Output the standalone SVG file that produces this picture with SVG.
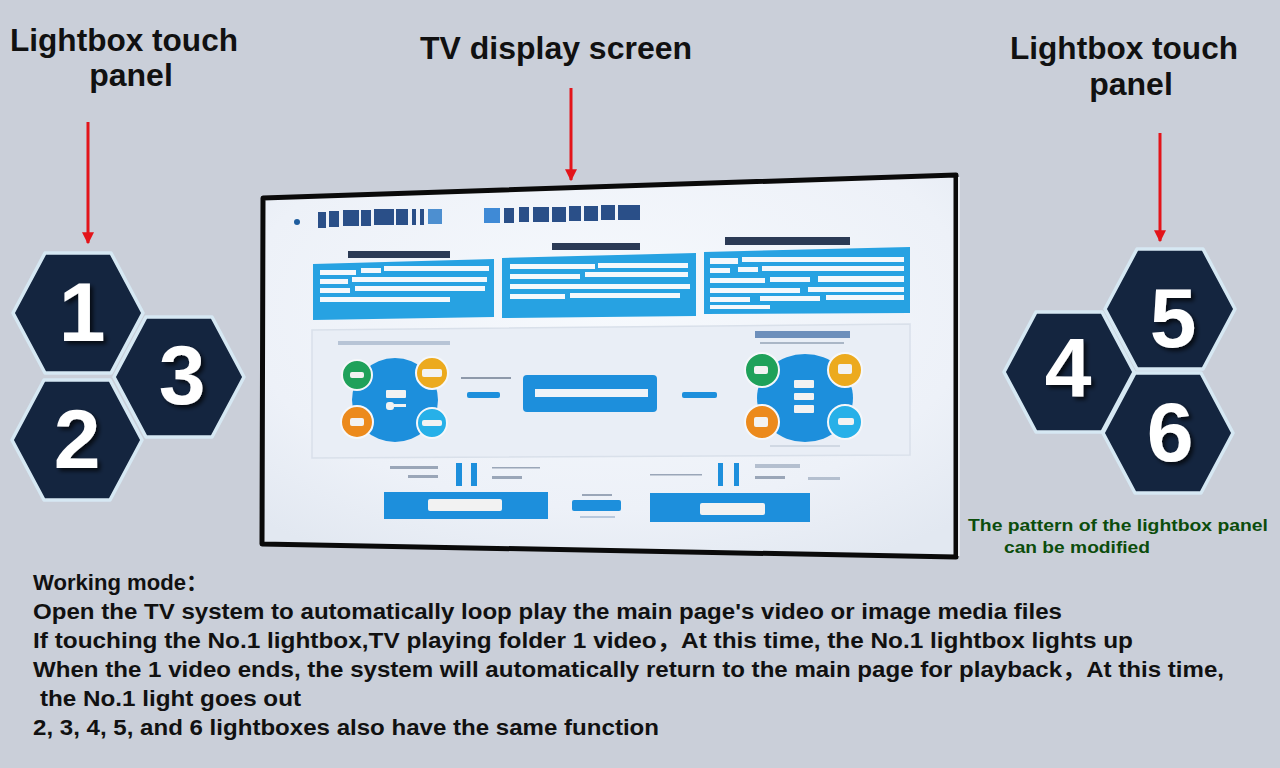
<svg xmlns="http://www.w3.org/2000/svg" xmlns:xlink="http://www.w3.org/1999/xlink" width="1280" height="768" viewBox="0 0 1280 768">
<defs>
<style>
.title{font-family:"Liberation Sans",Arial,sans-serif;font-weight:bold;font-size:32px;fill:#111;text-anchor:middle}
.num{font-family:"Liberation Sans",Arial,sans-serif;font-weight:bold;font-size:84px;fill:#fff;text-anchor:middle}
.body{font-family:"Liberation Sans","Noto Sans CJK SC",Arial,sans-serif;font-weight:bold;font-size:22px;fill:#111}
.note{font-family:"Liberation Sans",Arial,sans-serif;font-weight:bold;font-size:17px;fill:#0c4d0c}
.hex{fill:#14253f;stroke:#d6e8f3;stroke-width:3.5;stroke-linejoin:round}
.arrow{stroke:#e3141a;stroke-width:3;fill:none;marker-end:url(#ah)}
.blue{fill:#1d8fdc}
.panel{fill:#27a2e2}
.wl{fill:#f4f8fc}
.dk{fill:#2a4f88}
.gr{fill:#9aa6b8}
.lbl{fill:#f2f2f2}
</style>
<marker id="ah" viewBox="0 0 10 10" refX="9" refY="5" markerWidth="4" markerHeight="5" orient="auto" markerUnits="strokeWidth">
<path d="M0,0 L10,5 L0,10 z" fill="#e3141a"/>
</marker>
<path id="hexshape" d="M-33,-60 L33,-60 L65,0 L33,60 L-33,60 L-65,0 Z"/>
<filter id="sh" x="-30%" y="-30%" width="160%" height="160%">
<feDropShadow dx="3" dy="3" stdDeviation="2" flood-color="#000" flood-opacity="0.7"/>
</filter>
<radialGradient id="scr" cx="0.5" cy="0.35" r="0.75">
<stop offset="0" stop-color="#f6f9fd"/>
<stop offset="0.7" stop-color="#edf1f8"/>
<stop offset="1" stop-color="#e2e8f1"/>
</radialGradient>
</defs>
<rect width="1280" height="768" fill="#cacfd9"/>

<g id="labels">
<text class="title" x="124" y="51" textLength="228" lengthAdjust="spacingAndGlyphs">Lightbox touch</text>
<text class="title" x="131" y="86">panel</text>
<text class="title" x="556" y="59" textLength="272" lengthAdjust="spacingAndGlyphs">TV display screen</text>
<text class="title" x="1124" y="59" textLength="228" lengthAdjust="spacingAndGlyphs">Lightbox touch</text>
<text class="title" x="1131" y="95">panel</text>
</g>

<g id="connectors">
<line class="arrow" x1="88" y1="122" x2="88" y2="243"/>
<line class="arrow" x1="571" y1="88" x2="571" y2="180"/>
<line class="arrow" x1="1160" y1="133" x2="1160" y2="241"/>
</g>

<g id="hex1"><use xlink:href="#hexshape" class="hex" transform="translate(78,313)"/><text class="num" x="82" y="341" filter="url(#sh)">1</text></g>
<g id="hex3"><use xlink:href="#hexshape" class="hex" transform="translate(179,377)"/><text class="num" x="182" y="404" filter="url(#sh)">3</text></g>
<g id="hex2"><use xlink:href="#hexshape" class="hex" transform="translate(77,440)"/><text class="num" x="77" y="468" filter="url(#sh)">2</text></g>
<g id="hex5"><use xlink:href="#hexshape" class="hex" transform="translate(1170,309)"/><text class="num" x="1173" y="347" filter="url(#sh)">5</text></g>
<g id="hex4"><use xlink:href="#hexshape" class="hex" transform="translate(1069,372)"/><text class="num" x="1068" y="397" filter="url(#sh)">4</text></g>
<g id="hex6"><use xlink:href="#hexshape" class="hex" transform="translate(1168,433)"/><text class="num" x="1170" y="461" filter="url(#sh)">6</text></g>

<g id="tv-screen">
<polygon points="263,198 956,175 956,557 262,544" fill="url(#scr)" stroke="#0a0a0a" stroke-width="5" stroke-linejoin="round"/>
<line x1="959" y1="177" x2="959" y2="556" stroke="#e6e9ee" stroke-width="2"/>
<!-- title row -->
<circle cx="297" cy="222" r="3" fill="#1f5d9e"/>
<rect class="dk" x="318" y="212" width="8" height="16"/>
<rect class="dk" x="329" y="211" width="10" height="16"/>
<rect class="dk" x="343" y="210" width="16" height="16"/>
<rect class="dk" x="361" y="210" width="10" height="16"/>
<rect class="dk" x="374" y="209" width="20" height="16"/>
<rect class="dk" x="396" y="209" width="12" height="16"/>
<rect class="dk" x="412" y="209" width="4" height="16"/>
<rect class="dk" x="420" y="209" width="4" height="16"/>
<rect x="428" y="209" width="14" height="15" fill="#4d8fd0"/>
<rect x="484" y="208" width="16" height="15" fill="#3f8ad6"/>
<rect class="dk" x="504" y="208" width="10" height="15"/>
<rect class="dk" x="519" y="207" width="10" height="15"/>
<rect class="dk" x="533" y="207" width="16" height="15"/>
<rect class="dk" x="552" y="207" width="14" height="15"/>
<rect class="dk" x="569" y="206" width="12" height="15"/>
<rect class="dk" x="584" y="206" width="14" height="15"/>
<rect class="dk" x="601" y="205" width="14" height="15"/>
<rect class="dk" x="618" y="205" width="22" height="15"/>
<!-- small headers -->
<rect x="348" y="251" width="102" height="7" fill="#2b3a55"/>
<rect x="552" y="243" width="88" height="7" fill="#2b3a55"/>
<rect x="725" y="237" width="125" height="8" fill="#2b3a55"/>
<!-- three panels -->
<polygon class="panel" points="313,264 494,259 494,317 313,320"/>
<rect class="wl" x="320" y="270" width="36" height="5"/>
<rect class="wl" x="361" y="268" width="20" height="5"/>
<rect class="wl" x="384" y="266" width="105" height="5"/>
<rect class="wl" x="320" y="279" width="28" height="5"/>
<rect class="wl" x="352" y="277" width="135" height="5"/>
<rect class="wl" x="320" y="288" width="30" height="5"/>
<rect class="wl" x="355" y="286" width="130" height="5"/>
<rect class="wl" x="320" y="297" width="130" height="5"/>
<polygon class="panel" points="502,258 696,253 696,316 502,318"/>
<rect class="wl" x="510" y="264" width="85" height="5"/>
<rect class="wl" x="598" y="263" width="90" height="5"/>
<rect class="wl" x="510" y="274" width="70" height="5"/>
<rect class="wl" x="585" y="272" width="103" height="5"/>
<rect class="wl" x="510" y="284" width="180" height="5"/>
<rect class="wl" x="510" y="294" width="55" height="5"/>
<rect class="wl" x="570" y="293" width="110" height="5"/>
<polygon class="panel" points="704,252 910,247 910,313 704,314"/>
<rect class="wl" x="710" y="258" width="28" height="6"/>
<rect class="wl" x="742" y="257" width="162" height="5"/>
<rect class="wl" x="710" y="268" width="20" height="5"/>
<rect class="wl" x="738" y="267" width="20" height="5"/>
<rect class="wl" x="762" y="266" width="142" height="5"/>
<rect class="wl" x="710" y="278" width="55" height="5"/>
<rect class="wl" x="770" y="277" width="40" height="5"/>
<rect class="wl" x="818" y="276" width="86" height="6"/>
<rect class="wl" x="710" y="288" width="90" height="5"/>
<rect class="wl" x="808" y="287" width="96" height="5"/>
<rect class="wl" x="710" y="297" width="40" height="5"/>
<rect class="wl" x="760" y="296" width="60" height="5"/>
<rect class="wl" x="826" y="295" width="78" height="5"/>
<rect class="wl" x="710" y="305" width="60" height="4"/>
<!-- big frame -->
<polygon points="312,330 910,324 910,455 312,458" fill="#e9eef6" stroke="#d9e0ea" stroke-width="1.5"/>
<rect x="338" y="341" width="112" height="4" fill="#b7c4d6"/>
<rect x="755" y="331" width="95" height="7" fill="#6d8fbb"/>
<rect x="760" y="342" width="84" height="2" fill="#aab6c6"/>
<!-- left cluster -->
<ellipse class="blue" cx="395" cy="400" rx="43" ry="42"/>
<circle cx="357" cy="375" r="15" fill="#1fa15a" stroke="#f5f7fa" stroke-width="2"/>
<circle cx="432" cy="373" r="16" fill="#ecaa1e" stroke="#f5f7fa" stroke-width="2"/>
<circle cx="357" cy="422" r="16" fill="#ec8a1c" stroke="#f5f7fa" stroke-width="2"/>
<circle cx="432" cy="423" r="15" fill="#27b0e8" stroke="#f5f7fa" stroke-width="2"/>
<rect class="lbl" x="350" y="372" width="14" height="6" rx="2"/>
<rect class="lbl" x="422" y="369" width="20" height="8" rx="2"/>
<rect class="lbl" x="350" y="418" width="14" height="8" rx="2"/>
<rect class="lbl" x="422" y="420" width="20" height="6" rx="2"/>
<rect class="lbl" x="386" y="390" width="20" height="8" rx="1"/>
<rect class="lbl" x="386" y="402" width="8" height="8" rx="3"/>
<rect class="lbl" x="394" y="404" width="12" height="3"/>
<!-- connectors in screen -->
<rect x="461" y="377" width="50" height="2" fill="#8e99aa"/>
<rect class="blue" x="467" y="392" width="33" height="6" rx="2"/>
<rect class="blue" x="523" y="375" width="134" height="37" rx="4"/>
<rect x="535" y="389" width="113" height="8" fill="#eef3f8"/>
<rect class="blue" x="682" y="392" width="35" height="6" rx="2"/>
<!-- right cluster -->
<ellipse class="blue" cx="805" cy="398" rx="48" ry="44"/>
<circle cx="762" cy="370" r="17" fill="#1fa15a" stroke="#f5f7fa" stroke-width="2"/>
<circle cx="845" cy="370" r="17" fill="#ecaa1e" stroke="#f5f7fa" stroke-width="2"/>
<circle cx="762" cy="422" r="17" fill="#ec8a1c" stroke="#f5f7fa" stroke-width="2"/>
<circle cx="845" cy="422" r="17" fill="#27b0e8" stroke="#f5f7fa" stroke-width="2"/>
<rect class="lbl" x="754" y="366" width="14" height="8" rx="2"/>
<rect class="lbl" x="838" y="364" width="14" height="10" rx="2"/>
<rect class="lbl" x="754" y="417" width="14" height="10" rx="2"/>
<rect class="lbl" x="838" y="418" width="16" height="7" rx="2"/>
<rect class="lbl" x="794" y="380" width="20" height="8" rx="1"/>
<rect class="lbl" x="794" y="393" width="20" height="7" rx="1"/>
<rect class="lbl" x="794" y="405" width="20" height="8" rx="1"/>
<rect x="770" y="445" width="70" height="2" fill="#d0d8e3"/>
<!-- bottom section -->
<rect x="390" y="466" width="48" height="3" class="gr"/>
<rect x="408" y="475" width="30" height="3" class="gr"/>
<rect class="blue" x="456" y="463" width="6" height="23"/>
<rect class="blue" x="471" y="463" width="6" height="23"/>
<rect x="492" y="467" width="48" height="1.5" class="gr"/>
<rect x="492" y="476" width="30" height="3" class="gr"/>
<rect class="blue" x="384" y="492" width="164" height="27"/>
<rect class="lbl" x="428" y="499" width="74" height="12" rx="2"/>
<rect x="582" y="494" width="30" height="2" class="gr"/>
<rect class="blue" x="572" y="500" width="49" height="11" rx="2"/>
<rect x="580" y="516" width="35" height="2" fill="#b8c8dc"/>
<rect x="650" y="474" width="52" height="1.5" class="gr"/>
<rect class="blue" x="718" y="463" width="5" height="23"/>
<rect class="blue" x="734" y="463" width="5" height="23"/>
<rect x="755" y="464" width="45" height="4" fill="#b4bfcf"/>
<rect x="755" y="476" width="30" height="3" class="gr"/>
<rect x="808" y="477" width="32" height="3" fill="#b4bfcf"/>
<rect class="blue" x="650" y="493" width="160" height="29"/>
<rect class="lbl" x="700" y="503" width="65" height="12" rx="2"/>
</g>

<g id="note">
<text class="note" x="968" y="531" textLength="300" lengthAdjust="spacingAndGlyphs">The pattern of the lightbox panel</text>
<text class="note" x="1004" y="553" textLength="146" lengthAdjust="spacingAndGlyphs">can be modified</text>
</g>

<g id="description">
<text class="body" x="33" y="590" textLength="175" lengthAdjust="spacingAndGlyphs">Working mode：</text>
<text class="body" x="33" y="619" textLength="1029" lengthAdjust="spacingAndGlyphs">Open the TV system to automatically loop play the main page's video or image media files</text>
<text class="body" x="33" y="648" textLength="1100" lengthAdjust="spacingAndGlyphs">If touching the No.1 lightbox,TV playing folder 1 video，At this time, the No.1 lightbox lights up</text>
<text class="body" x="33" y="677" textLength="1191" lengthAdjust="spacingAndGlyphs">When the 1 video ends, the system will automatically return to the main page for playback，At this time,</text>
<text class="body" x="40" y="706" textLength="261" lengthAdjust="spacingAndGlyphs">the No.1 light goes out</text>
<text class="body" x="33" y="735" textLength="626" lengthAdjust="spacingAndGlyphs">2, 3, 4, 5, and 6 lightboxes also have the same function</text>
</g>
</svg>
